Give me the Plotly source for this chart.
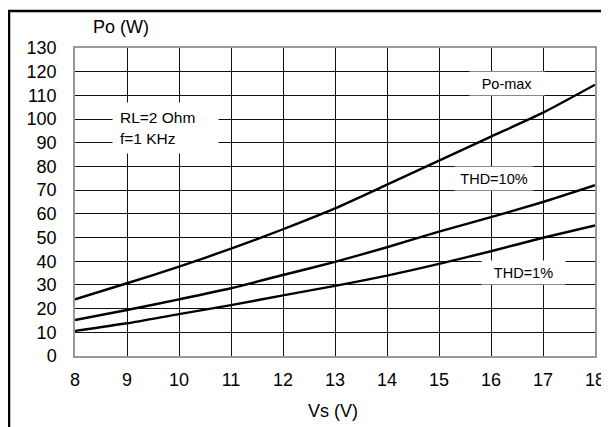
import plotly.graph_objects as go

vs = [8, 9, 10, 11, 12, 13, 14, 15, 16, 17, 18]
po_max = [23.9, 30.7, 37.7, 45.3, 53.5, 62.3, 72.3, 82.5, 92.6, 102.7, 114.5]
thd_10 = [15.2, 19.4, 23.9, 28.6, 34.2, 39.7, 45.9, 52.5, 58.6, 65.0, 72.1]
thd_1 = [10.6, 13.8, 17.7, 21.5, 25.6, 29.6, 33.9, 38.9, 44.2, 49.9, 55.1]

x_ticks = list(range(8, 19))
y_ticks = list(range(0, 131, 10))

FONT = "Liberation Sans, Arial, sans-serif"

fig = go.Figure()
for name, ys in [("Po-max", po_max), ("THD=10%", thd_10), ("THD=1%", thd_1)]:
    fig.add_trace(go.Scatter(x=vs, y=ys, mode="lines", name=name,
                             line=dict(color="black", width=2.4, shape="spline", smoothing=0.6),
                             showlegend=False, hoverinfo="skip"))

# page body has an 8px margin: figure coords = screen coords - 8
OFF = 8
W, H = 609 - OFF, 427 - OFF
L, R, T = 75 - OFF, 14, 48 - OFF
ph = 356 - 48
B = H - T - ph
pw = W - L - R

def px(xs):
    return (xs - OFF - L) / pw

def py(ys):
    return (H - B - (ys - OFF)) / ph

fig.update_layout(
    width=W, height=H,
    margin=dict(l=L, r=R, t=T, b=B, pad=0, autoexpand=False),
    paper_bgcolor="white", plot_bgcolor="white",
    font=dict(family=FONT, size=18, color="black"),
    xaxis=dict(range=[8, 18], tickvals=x_ticks, showgrid=True, gridcolor="#111", gridwidth=1,
               showline=True, linecolor="#999", linewidth=1.5, mirror=True, zeroline=False,
               ticks="", ticklabelstandoff=7, tickfont=dict(size=18), automargin=False),
    yaxis=dict(range=[0, 130], tickvals=y_ticks, showgrid=True, gridcolor="#111", gridwidth=1,
               showline=True, linecolor="#999", linewidth=1.5, mirror=True, zeroline=False,
               ticks="", ticklabelstandoff=13, tickfont=dict(size=18), automargin=False),
)

# annotations with white boxes
fig.add_annotation(x=16.3, y=115.2, xref="x", yref="y", text="Po-max", showarrow=False,
                   font=dict(size=14.5), bgcolor="white", width=74, height=23, borderpad=0)
fig.add_annotation(x=16.05, y=74.9, xref="x", yref="y", text="THD=10%", showarrow=False,
                   font=dict(size=14.5), bgcolor="white", width=78, height=23, borderpad=0)
fig.add_annotation(x=16.62, y=35.2, xref="x", yref="y", text="THD=1%", showarrow=False,
                   font=dict(size=14.5), bgcolor="white", width=83, height=23, borderpad=0)
fig.add_annotation(x=9.74, y=96.2, xref="x", yref="y", text="RL=2 Ohm<br>f=1 KHz", showarrow=False,
                   font=dict(size=15.5), bgcolor="white", width=91, height=36, borderpad=7,
                   align="left")

# axis titles
fig.add_annotation(x=px(121), y=py(27), xref="paper", yref="paper", text="Po (W)", showarrow=False,
                   xanchor="center", yanchor="middle", font=dict(size=18))
fig.add_annotation(x=px(333), y=py(411), xref="paper", yref="paper", text="Vs (V)", showarrow=False,
                   xanchor="center", yanchor="middle", font=dict(size=18))

# outer frame (left and top)
fig.add_shape(type="line", xref="paper", yref="paper", x0=px(9), x1=px(9), y0=py(11), y1=py(440),
              line=dict(color="black", width=2.5))
fig.add_shape(type="line", xref="paper", yref="paper", x0=px(8), x1=px(602), y0=py(11), y1=py(11),
              line=dict(color="black", width=2.5))

fig.write_html("out.html")
